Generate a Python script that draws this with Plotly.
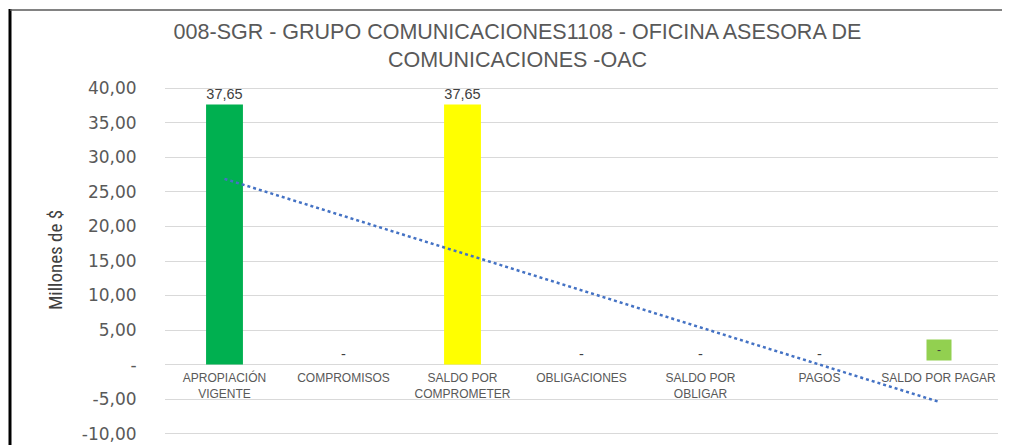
import numpy as np
import plotly.graph_objects as go

# data
categories = ["APROPIACIÓN<br>VIGENTE", "COMPROMISOS", "SALDO POR<br>COMPROMETER",
              "OBLIGACIONES", "SALDO POR<br>OBLIGAR", "PAGOS", "SALDO POR PAGAR"]
values = [37.65, 0, 37.65, 0, 0, 0, 0]
bar_colors = ["#00B050", "#00B050", "#FFFF00", "#00B050", "#00B050", "#00B050", "#92D050"]
y_ticks = [-10, -5, 0, 5, 10, 15, 20, 25, 30, 35, 40]
y_tick_labels = ["-10,00", "-5,00", "-", "5,00", "10,00", "15,00", "20,00",
                 "25,00", "30,00", "35,00", "40,00"]

# page has an 8px body margin, so the figure is 8px smaller than the window
OFF = 8
W, H = 1010 - OFF, 445 - OFF
L, R, T, B = 165 - OFF, 12, 87 - OFF, 10
y_range = [-10.2, 40.2]


def fmt(v):
    return "-" if v == 0 else f"{v:.2f}".replace(".", ",")


def px_x(p):
    # page pixel -> paper x
    return (p - OFF - L) / (W - L - R)


def px_y(p):
    # page pixel -> paper y
    return 1 - (p - OFF - T) / (H - T - B)


labels = [fmt(v) for v in values]
# last label has a filled box, drawn as annotation
bar_text = labels[:-1] + [""]

fig = go.Figure()
fig.add_trace(go.Bar(
    x=categories, y=values, width=0.31,
    marker=dict(color=bar_colors, line=dict(width=0)),
    text=bar_text, textposition="outside", cliponaxis=False,
    textfont=dict(family="Liberation Sans, Arial", size=14.5, color="#404040"),
    showlegend=False,
))

# linear trendline over the series (like Excel)
idx = np.arange(len(values))
slope, intercept = np.polyfit(idx, values, 1)
fig.add_trace(go.Scatter(
    x=[categories[0], categories[-1]],
    y=[intercept, intercept + slope * idx[-1]],
    mode="lines", line=dict(color="#4472C4", width=2.5, dash="dot"),
    showlegend=False, hoverinfo="skip",
))

fig.add_annotation(
    x=categories[-1], y=0, xref="x", yref="y", text=labels[-1],
    showarrow=False, yanchor="bottom", yshift=4, width=22, height=18,
    bgcolor="#92D050", font=dict(family="Liberation Sans, Arial", size=12, color="#404040"),
)
fig.add_annotation(
    text="Millones de $", xref="paper", yref="paper",
    x=px_x(55), y=px_y(260), textangle=-90, showarrow=False,
    xanchor="center", yanchor="middle",
    font=dict(family="Liberation Sans Narrow, Roboto Condensed, Roboto",
              size=19, color="#404040"),
)

zero_pos = (0 - y_range[0]) / (y_range[1] - y_range[0])

fig.update_layout(
    width=W, height=H,
    margin=dict(l=L, r=R, t=T, b=B),
    paper_bgcolor="white", plot_bgcolor="white",
    title=dict(
        text="008-SGR - GRUPO COMUNICACIONES1108 - OFICINA ASESORA DE<br>COMUNICACIONES -OAC",
        x=(517.5 - OFF) / W, xanchor="center", xref="container",
        y=1 - 31 / H, yanchor="top", yref="container",
        font=dict(family="Liberation Sans, Arial", size=21.5, color="#595959"),
    ),
    xaxis=dict(
        type="category", anchor="free", position=zero_pos, automargin=False,
        showgrid=False, showline=False, zeroline=False,
        ticks="outside", ticklen=2, tickcolor="rgba(0,0,0,0)", tickangle=0,
        tickfont=dict(family="Liberation Sans, Arial", size=12, color="#595959"),
    ),
    yaxis=dict(
        range=y_range, tickvals=y_ticks, ticktext=y_tick_labels, automargin=False,
        showgrid=True, gridcolor="#D9D9D9", gridwidth=1,
        zeroline=True, zerolinecolor="#D9D9D9", zerolinewidth=1,
        showline=False,
        ticks="outside", ticklen=24, tickcolor="rgba(0,0,0,0)",
        tickfont=dict(family="DejaVu Sans, Verdana", size=17, color="#595959"),
    ),
    shapes=[
        dict(type="line", xref="paper", yref="paper",
             x0=px_x(10), x1=px_x(10), y0=px_y(9), y1=px_y(450),
             line=dict(color="black", width=3)),
        dict(type="line", xref="paper", yref="paper",
             x0=px_x(10), x1=px_x(1015), y0=px_y(10), y1=px_y(10),
             line=dict(color="#595959", width=1.5)),
    ],
)

fig.write_html("out.html")
